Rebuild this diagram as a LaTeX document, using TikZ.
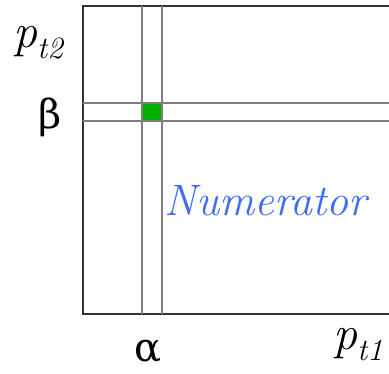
\documentclass[tikz,border=0pt]{standalone}
\usepackage{fontspec}
\newfontfamily\grkfont{DejaVu Serif}
\usetikzlibrary{positioning}
\definecolor{ndFrame}{HTML}{333333}
\definecolor{ndGrid}{HTML}{808080}
\definecolor{ndGreen}{HTML}{00B000}
\definecolor{ndBlue}{HTML}{3F6CF5}

\begin{document}
\begin{tikzpicture}[x=1pt,y=-1pt,inner sep=0pt,
  lab/.style={font=\fontsize{48}{48}\selectfont},
  grk/.style={font=\grkfont\fontsize{40}{40}\selectfont},
  f/.style={draw=ndFrame,line width=2pt},
  g/.style={draw=ndGrid,line width=1.6pt}]
\useasboundingbox (0,0) rectangle (389,374);
% frame
\coordinate (tl) at (83,6);
\coordinate (bl) at (83,314);
\coordinate (tr) at (392,6);
\coordinate (br) at (392,314);
\draw[f] (tr) -- (tl) -- (bl) -- (br);
% strips through alpha and beta
\coordinate (a1t) at (142,6);
\coordinate (a1b) at (142,314);
\coordinate (a2t) at (162,6);
\coordinate (a2b) at (162,314);
\coordinate (b1l) at (83,103);
\coordinate (b1r) at (392,103);
\coordinate (b2l) at (83,121);
\coordinate (b2r) at (392,121);
\fill[ndGreen] (a1t |- b1l) rectangle (a2t |- b2l);
\draw[g] (a1t) -- (a1b);
\draw[g] (a2t) -- (a2b);
\draw[g] (b1l) -- (b1r);
\draw[g] (b2l) -- (b2r);
% labels
\node[lab,anchor=base west] (pt2) at (13,48) {\itshape p\raisebox{-11pt}{\fontsize{31}{31}\selectfont t2}};
\node[grk,anchor=base] (beta) at (50,129) {β};
\node[grk,anchor=base] (alpha) at (148,362) {α};
\node[lab,anchor=base west] (pt1) at (333,350) {\itshape p\raisebox{-11pt}{\fontsize{31}{31}\selectfont t1}};
\node[anchor=base west,text=ndBlue,font=\fontsize{44}{44}\selectfont\itshape] (num) at (164,216) {Numerator};
\end{tikzpicture}
\end{document}
